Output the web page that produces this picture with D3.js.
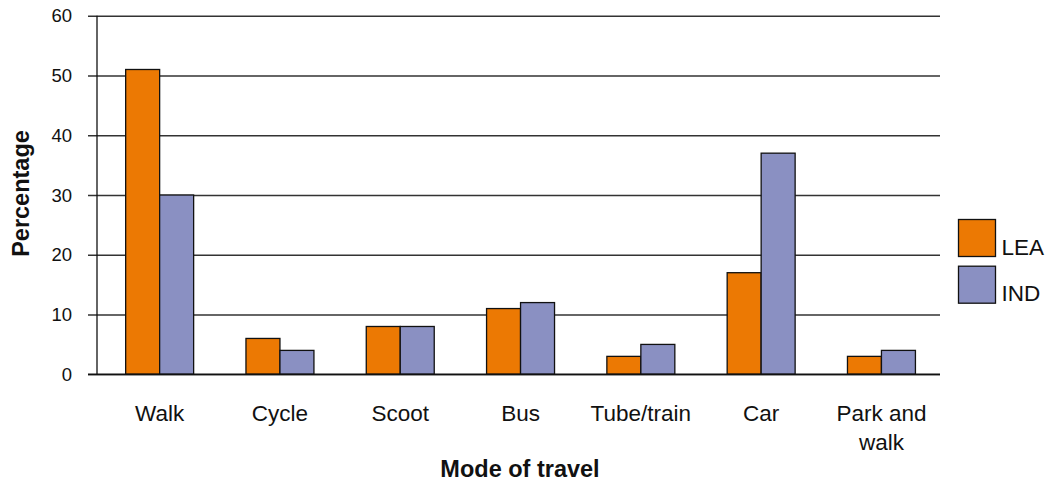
<!DOCTYPE html>
<html>
<head>
<meta charset="utf-8">
<script src="https://cdn.jsdelivr.net/npm/d3@7"></script>
<style>
  html, body { margin: 0; padding: 0; background: #fff; }
  svg { display: block; font-family: "Liberation Sans", Arial, Helvetica, sans-serif; }
</style>
</head>
<body>
<svg id="chart" width="1058" height="483"></svg>
<script>
// Mode of travel, percentage by group
const categories = ["Walk", "Cycle", "Scoot", "Bus", "Tube/train", "Car", "Park and walk"];
const categoryLines = [["Walk"], ["Cycle"], ["Scoot"], ["Bus"], ["Tube/train"], ["Car"], ["Park and", "walk"]];
const seriesNames = ["LEA", "IND"];
const leaValues = [51, 6, 8, 11, 3, 17, 3];
const indValues = [30, 4, 8, 12, 5, 37, 4];
const yTicks = [0, 10, 20, 30, 40, 50, 60];
const colors = ["#ec7903", "#8a90c2"];

const svg = d3.select("#chart");

const plotLeft = 97, plotRight = 940, plotTop = 15.7, plotBottom = 374.3;

const y = d3.scaleLinear().domain([0, 60]).range([plotBottom, plotTop]);

const x0 = d3.scaleBand()
  .domain(categories)
  .range([99.5, 941.6])
  .paddingInner(0.435)
  .paddingOuter(0.2175);

const x1 = d3.scaleBand()
  .domain(seriesNames)
  .range([0, x0.bandwidth()]);

const color = d3.scaleOrdinal().domain(seriesNames).range(colors);

// horizontal gridlines with left tick marks
const grid = svg.append("g")
  .attr("transform", `translate(${plotLeft},0)`)
  .call(d3.axisLeft(y).tickValues(yTicks).tickSize(-(plotRight - plotLeft)).tickFormat(""));
grid.select(".domain").remove();
grid.selectAll(".tick line")
  .attr("x1", -9)
  .attr("stroke", "#333")
  .attr("stroke-width", 1.4);

// y tick labels
svg.append("g")
  .selectAll("text")
  .data(yTicks)
  .join("text")
  .attr("x", 72)
  .attr("y", d => y(d) + 6.6)
  .attr("text-anchor", "end")
  .attr("font-size", 18.5)
  .attr("fill", "#111")
  .text(d => d);

// y axis line
svg.append("line")
  .attr("x1", plotLeft).attr("x2", plotLeft)
  .attr("y1", y(60)).attr("y2", y(0))
  .attr("stroke", "#111").attr("stroke-width", 1.3);

// bars
const rows = categories.map((c, i) => ({ category: c, values: [leaValues[i], indValues[i]] }));

svg.append("g")
  .selectAll("g")
  .data(rows)
  .join("g")
  .attr("transform", d => `translate(${x0(d.category)},0)`)
  .selectAll("rect")
  .data(d => seriesNames.map((s, j) => ({ series: s, value: d.values[j] })))
  .join("rect")
  .attr("x", d => x1(d.series))
  .attr("y", d => y(d.value))
  .attr("width", x1.bandwidth())
  .attr("height", d => y(0) - y(d.value))
  .attr("fill", d => color(d.series))
  .attr("stroke", "#111")
  .attr("stroke-width", 1.3);

// baseline redrawn on top
svg.append("line")
  .attr("x1", plotLeft - 9).attr("x2", plotRight)
  .attr("y1", y(0)).attr("y2", y(0))
  .attr("stroke", "#111").attr("stroke-width", 1.4);

// category labels
const catLabels = svg.append("g")
  .selectAll("text")
  .data(categories.map((c, i) => ({ category: c, lines: categoryLines[i] })))
  .join("text")
  .attr("text-anchor", "middle")
  .attr("font-size", 22.5)
  .attr("fill", "#111")
  .attr("transform", d => `translate(${x0(d.category) + x0.bandwidth() / 2},421)`);
catLabels.selectAll("tspan")
  .data(d => d.lines)
  .join("tspan")
  .attr("x", 0)
  .attr("y", (d, i) => i * 28.5)
  .text(d => d);

// axis titles
svg.append("text")
  .attr("x", 520)
  .attr("y", 477)
  .attr("text-anchor", "middle")
  .attr("font-size", 23.5)
  .attr("font-weight", "bold")
  .attr("fill", "#111")
  .text("Mode of travel");

svg.append("text")
  .attr("transform", "translate(28.5,193.5) rotate(-90)")
  .attr("text-anchor", "middle")
  .attr("font-size", 23.5)
  .attr("font-weight", "bold")
  .attr("fill", "#111")
  .text("Percentage");

// legend
const legend = svg.append("g")
  .selectAll("g")
  .data(seriesNames)
  .join("g")
  .attr("transform", (d, i) => `translate(958.5,${219.5 + i * 46.7})`);
legend.append("rect")
  .attr("width", 37)
  .attr("height", 37)
  .attr("fill", d => color(d))
  .attr("stroke", "#111")
  .attr("stroke-width", 1.3);
legend.append("text")
  .attr("x", 43)
  .attr("y", 35)
  .attr("font-size", 22.5)
  .attr("fill", "#111")
  .text(d => d);
</script>
</body>
</html>
